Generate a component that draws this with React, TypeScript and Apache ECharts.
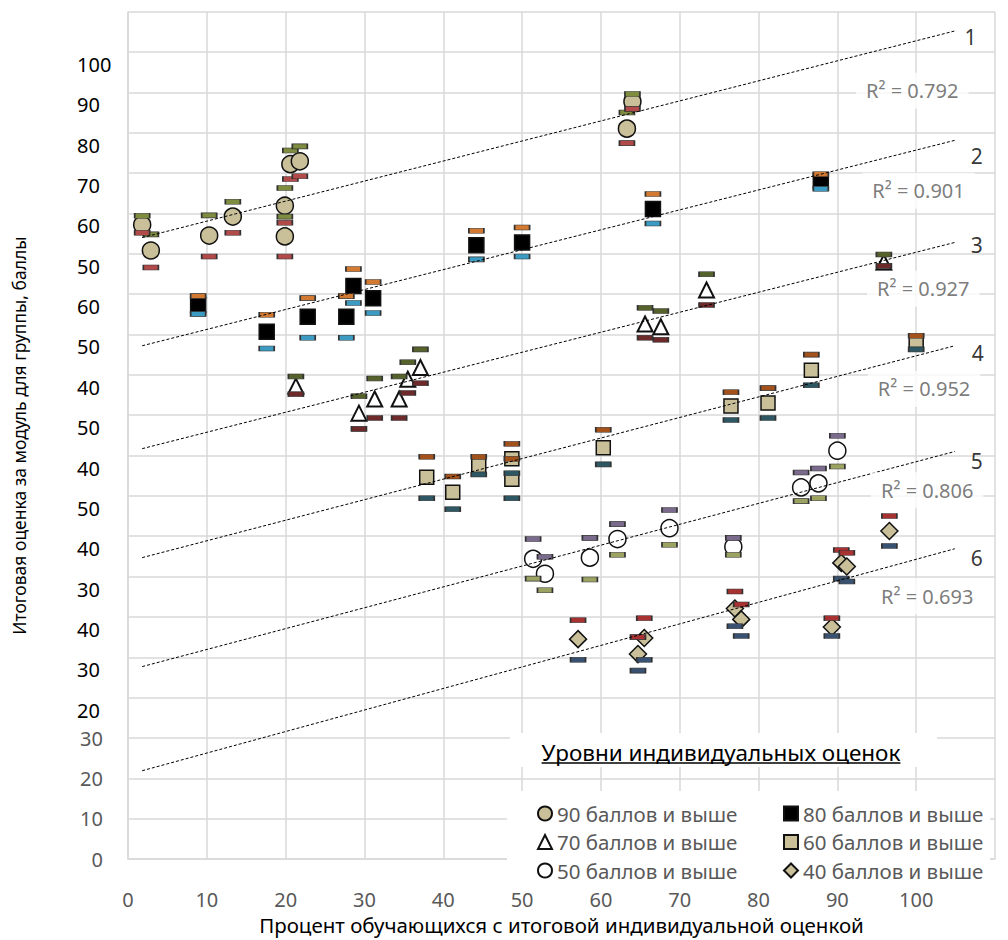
import React, { useEffect, useRef } from 'react';
import * as echarts from 'echarts';

const FONT = "'Noto Sans', 'Open Sans', sans-serif";
const GRID_COLOR = '#d9d9d9';
const TAN = '#c9c09a';

const levelNames = [
  '90 баллов и выше',
  '80 баллов и выше',
  '70 баллов и выше',
  '60 баллов и выше',
  '50 баллов и выше',
  '40 баллов и выше',
];

const g1X = [1.8, 2.9, 10.3, 13.3, 19.9, 19.9, 20.6, 21.8, 63.3, 64.0];
const g1Y = [157.2, 150.8, 154.5, 159.2, 161.9, 154.3, 172.2, 172.9, 181.0, 187.7];
const g1Hi = [159.4, 154.8, 159.5, 162.9, 166.3, 159.2, 175.6, 176.6, 185.0, 189.6];
const g1Lo = [155.2, 146.6, 149.3, 155.2, 157.7, 149.3, 168.5, 169.2, 177.4, 185.9];

const g2X = [8.9, 17.6, 22.8, 27.7, 28.6, 31.1, 44.2, 50.0, 66.6, 87.9];
const g2Y = [137.3, 130.7, 134.4, 134.4, 142.0, 139.0, 152.1, 152.8, 161.1, 168.0];
const g2Hi = [139.5, 134.9, 139.0, 139.5, 146.2, 143.0, 155.7, 156.5, 164.8, 169.7];
const g2Lo = [135.1, 126.5, 129.2, 129.2, 137.8, 135.3, 148.6, 149.3, 157.5, 166.1];

const g3X = [21.3, 29.3, 31.3, 34.4, 35.5, 37.1, 65.6, 67.6, 73.4, 95.9];
const g3Y = [117.2, 110.5, 114.0, 114.0, 118.9, 121.8, 132.6, 131.9, 141.0, 147.9];
const g3Hi = [119.6, 114.7, 119.1, 119.6, 123.1, 126.3, 136.6, 135.8, 144.9, 149.8];
const g3Lo = [115.2, 106.6, 109.3, 109.3, 115.5, 117.9, 129.2, 128.7, 137.3, 147.0];

const g4X = [37.9, 41.2, 44.5, 48.7, 48.7, 60.3, 76.5, 81.2, 86.7, 100.0];
const g4Y = [94.6, 90.9, 97.5, 99.2, 94.1, 101.9, 112.3, 113.0, 121.1, 128.0];
const g4Hi = [99.7, 94.8, 99.7, 102.9, 99.2, 106.4, 115.7, 116.7, 125.0, 129.7];
const g4Lo = [89.4, 86.7, 95.3, 95.6, 89.4, 97.8, 108.8, 109.3, 117.4, 126.3];

const g5X = [51.4, 52.9, 58.6, 62.1, 68.7, 76.8, 85.4, 87.6, 90.0];
const g5Y = [74.4, 70.7, 74.7, 79.3, 82.0, 77.4, 92.1, 93.1, 101.2];
const g5Hi = [79.3, 74.9, 79.6, 83.0, 86.5, 79.6, 95.8, 96.8, 104.9];
const g5Lo = [69.5, 66.6, 69.3, 75.4, 77.9, 75.4, 88.7, 89.4, 97.3];

const g6X = [57.1, 64.7, 65.5, 77.0, 77.8, 89.3, 90.5, 91.2, 96.6];
const g6Y = [54.5, 50.8, 54.8, 62.1, 59.4, 57.5, 73.4, 72.5, 81.3];
const g6Hi = [59.2, 55.0, 59.7, 66.3, 63.1, 59.7, 76.6, 75.9, 85.0];
const g6Lo = [49.4, 46.7, 49.4, 57.7, 55.3, 55.3, 69.5, 68.8, 77.6];

const trendX = [1.8, 104.9];
const trend1 = [154.0, 205.2];
const trend2 = [127.2, 178.1];
const trend3 = [101.7, 152.8];
const trend4 = [74.7, 127.2];
const trend5 = [47.7, 101.0];
const trend6 = [21.9, 76.9];

const r2Text = ['R² = 0.792', 'R² = 0.901', 'R² = 0.927', 'R² = 0.952', 'R² = 0.806', 'R² = 0.693'];
const r2X = [99.5, 100.3, 100.9, 101.0, 101.4, 101.4];
const r2Y = [190.4, 165.6, 141.3, 116.5, 91.4, 65.1];

const numText = ['1', '2', '3', '4', '5', '6'];
const numX = [106.9, 107.7, 107.7, 107.8, 107.7, 107.7];
const numY = [203.6, 174.2, 152.1, 125.3, 98.7, 74.7];

const xTickLabels = [0, 10, 20, 30, 40, 50, 60, 70, 80, 90, 100];
const yTickLabels = [0, 10, 20, 30];
const yExtraLabels = ['100', '90', '80', '70', '60', '50', '60', '50', '40', '50', '40', '50', '40', '30', '40', '30', '20'];
const yExtraPos = [196.9, 186.9, 176.9, 166.9, 156.9, 146.9, 136.9, 126.9, 116.9, 106.9, 96.9, 86.9, 76.9, 66.9, 56.9, 46.9, 36.9];

const xTitle = 'Процент обучающихся с итоговой индивидуальной оценкой';
const yTitle = 'Итоговая оценка за модуль для группы, баллы';
const legendTitle = 'Уровни индивидуальных оценок';

const groups = [
  { x: g1X, y: g1Y, hi: g1Hi, lo: g1Lo, symbol: 'circle', size: 17, fill: TAN, hiC: '#7d8c3e', loC: '#b24a4a' },
  { x: g2X, y: g2Y, hi: g2Hi, lo: g2Lo, symbol: 'rect', size: 15, fill: '#000000', hiC: '#d27a32', loC: '#3b9bc2' },
  { x: g3X, y: g3Y, hi: g3Hi, lo: g3Lo, symbol: 'triangle', size: 15, fill: '#ffffff', hiC: '#56622c', loC: '#6e2a2a' },
  { x: g4X, y: g4Y, hi: g4Hi, lo: g4Lo, symbol: 'rect', size: 14, fill: TAN, hiC: '#a4521c', loC: '#2c5763' },
  { x: g5X, y: g5Y, hi: g5Hi, lo: g5Lo, symbol: 'circle', size: 17, fill: '#ffffff', hiC: '#7a6a8c', loC: '#9ba262' },
  { x: g6X, y: g6Y, hi: g6Hi, lo: g6Lo, symbol: 'diamond', size: 17, fill: TAN, hiC: '#a83232', loC: '#3a5272' },
];
const trends = [trend1, trend2, trend3, trend4, trend5, trend6];

export default function App() {
  const ref = useRef<HTMLDivElement>(null);
  useEffect(() => {
    const el = ref.current;
    if (!el) return;
    const chart = echarts.init(el, null, { renderer: 'svg' });

    const series: any[] = [];
    groups.forEach((g, gi) => {
      series.push({
        type: 'scatter',
        name: levelNames[gi],
        symbol: g.symbol,
        symbolSize: g.size,
        itemStyle: { color: g.fill, borderColor: '#111111', borderWidth: g.symbol === 'triangle' ? 2 : 1.5, opacity: 1 },
        data: g.x.map((v, i) => [v, g.y[i]]),
        z: 2,
        silent: true,
      });
      series.push({
        type: 'scatter',
        name: levelNames[gi] + ' max',
        symbol: 'rect',
        symbolSize: [15, 5],
        itemStyle: { color: g.hiC, borderColor: '#333333', borderWidth: 1, opacity: 1 },
        data: g.x.map((v, i) => [v, g.hi[i]]),
        z: 3,
        silent: true,
      });
      series.push({
        type: 'scatter',
        name: levelNames[gi] + ' min',
        symbol: 'rect',
        symbolSize: [15, 5],
        itemStyle: { color: g.loC, borderColor: '#333333', borderWidth: 1, opacity: 1 },
        data: g.x.map((v, i) => [v, g.lo[i]]),
        z: 3,
        silent: true,
      });
    });
    trends.forEach((t, ti) => {
      series.push({
        type: 'line',
        name: 'trend' + (ti + 1),
        data: [[trendX[0], t[0]], [trendX[1], t[1]]],
        symbol: 'none',
        lineStyle: { color: '#000000', width: 1, type: [3, 2] },
        z: 4,
        silent: true,
      });
    });
    series.push({
      type: 'scatter',
      name: 'r2',
      symbolSize: 0,
      data: r2X.map((x, i) => [x, r2Y[i]]),
      label: {
        show: true,
        position: 'inside',
        formatter: (p: any) => r2Text[p.dataIndex],
        color: '#595959',
        fontSize: 20,
        fontFamily: FONT,
        backgroundColor: '#ffffff',
        padding: [8, 10],
      },
      z: 6,
      silent: true,
    });
    series.push({
      type: 'scatter',
      name: 'nums',
      symbolSize: 0,
      data: numX.map((x, i) => [x, numY[i]]),
      label: {
        show: true,
        position: 'inside',
        formatter: (p: any) => numText[p.dataIndex],
        color: '#000000',
        fontSize: 21,
        fontFamily: FONT,
      },
      z: 6,
      silent: true,
    });

    const legendCommon = {
      orient: 'vertical',
      top: 798,
      itemWidth: 14,
      itemHeight: 14,
      itemGap: 7.5,
      selectedMode: false,
      textStyle: { color: '#595959', fontSize: 20.5, fontFamily: FONT, lineHeight: 20 },
    };

    const option: any = {
      animation: false,
      textStyle: { fontFamily: FONT },
      grid: { left: 128, width: 867, top: 12, height: 855, containLabel: false },
      xAxis: {
        type: 'value',
        min: 0,
        max: 110,
        interval: 10,
        name: xTitle,
        nameLocation: 'middle',
        nameGap: 50,
        nameTextStyle: { color: '#000000', fontSize: 20.5, fontFamily: FONT },
        axisLine: { show: true, lineStyle: { color: GRID_COLOR, width: 1.5 } },
        axisTick: { show: false },
        splitLine: { show: true, lineStyle: { color: GRID_COLOR, width: 1.5 } },
        axisLabel: {
          color: '#595959',
          fontSize: 20,
          fontFamily: FONT,
          margin: 30,
          formatter: (v: number) => (xTickLabels.includes(v) ? String(v) : ''),
        },
      },
      yAxis: {
        type: 'value',
        min: 0,
        max: 209.9,
        interval: 10,
        name: yTitle,
        nameLocation: 'middle',
        nameRotate: 90,
        nameGap: 100,
        nameTextStyle: { color: '#000000', fontSize: 17.5, fontFamily: FONT },
        axisLine: { show: true, lineStyle: { color: GRID_COLOR, width: 1.5 } },
        axisTick: { show: false },
        splitLine: { show: true, lineStyle: { color: GRID_COLOR, width: 1.5 } },
        axisLabel: {
          color: '#595959',
          fontSize: 20,
          fontFamily: FONT,
          margin: 25,
          formatter: (v: number) => (yTickLabels.includes(v) ? String(v) : ''),
        },
      },
      legend: [
        { ...legendCommon, left: 532, data: [levelNames[0], levelNames[2], levelNames[4]] },
        { ...legendCommon, left: 778, data: [levelNames[1], levelNames[3], levelNames[5]] },
      ],
      series,
    };
    chart.setOption(option);

    const TITLE_FS = 22.5;
    let titleW = 372;
    try {
      const c = document.createElement('canvas').getContext('2d');
      if (c) {
        c.font = `${TITLE_FS}px ${FONT}`;
        titleW = c.measureText(legendTitle).width;
      }
    } catch (e) {}
    const titleCx = 721;
    const titleCy = 752;

    const graphics: any[] = [
      { type: 'rect', z: 3, shape: { x: 510, y: 733, width: 427, height: 34 }, style: { fill: '#ffffff' }, silent: true },
      { type: 'rect', z: 3, shape: { x: 507, y: 791, width: 483, height: 85 }, style: { fill: '#ffffff' }, silent: true },
      {
        type: 'text', z: 5, x: titleCx, y: titleCy,
        style: { text: legendTitle, fill: '#000000', fontSize: TITLE_FS, fontFamily: FONT, align: 'center', verticalAlign: 'middle' },
        silent: true,
      },
      {
        type: 'line', z: 5,
        shape: { x1: titleCx - titleW / 2, y1: 763, x2: titleCx + titleW / 2, y2: 763 },
        style: { stroke: '#000000', lineWidth: 1.5 },
        silent: true,
      },
    ];
    yExtraLabels.forEach((t, i) => {
      const py = chart.convertToPixel({ yAxisIndex: 0 }, yExtraPos[i]) as number;
      graphics.push({
        type: 'text', z: 5, x: 77, y: py,
        style: { text: t, fill: '#000000', fontSize: 20, fontFamily: FONT, align: 'left', verticalAlign: 'middle' },
        silent: true,
      });
    });
    chart.setOption({ graphic: graphics });

    return () => chart.dispose();
  }, []);
  return <div ref={ref} style={{ position: 'absolute', left: 0, top: 0, width: 1008, height: 940 }} />;
}
